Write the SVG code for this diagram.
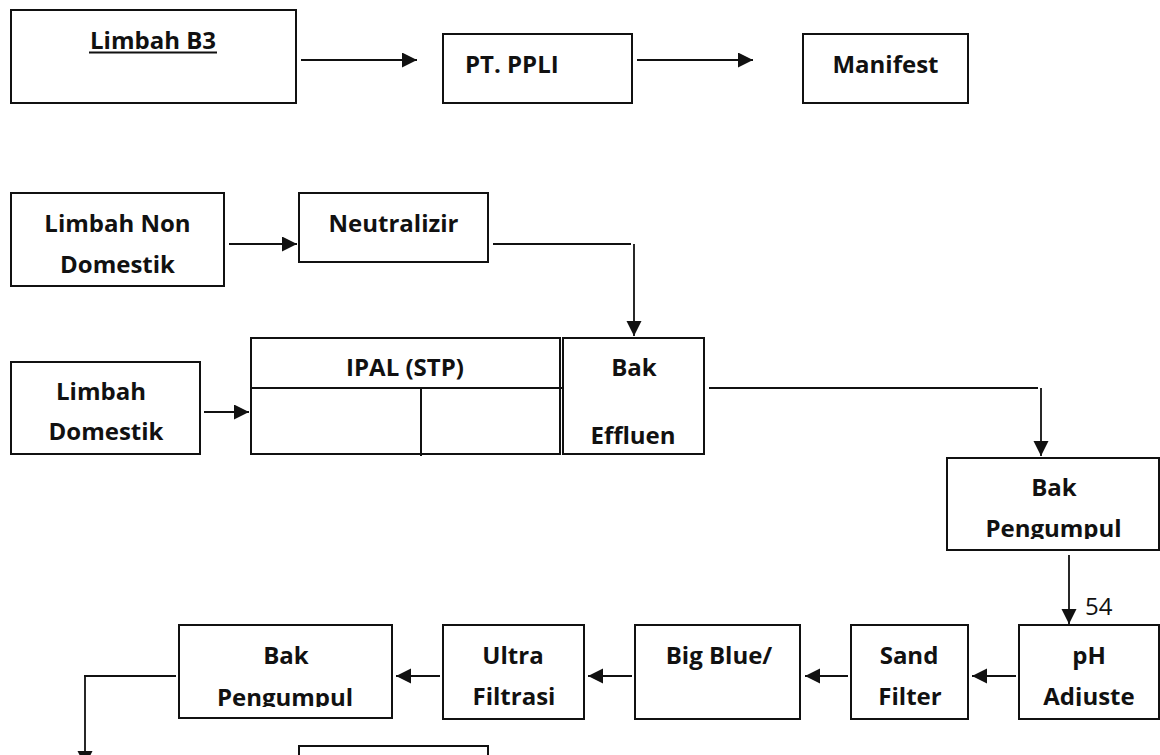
<svg xmlns="http://www.w3.org/2000/svg" width="1160" height="755" viewBox="0 0 1160 755">
  <style>
    .box { fill: #ffffff; stroke: #111111; stroke-width: 2; }
    .lbl { font-family: "Open Sans", "Liberation Sans", sans-serif; font-weight: 700; font-size: 24px; fill: #111111; text-anchor: middle; }
    .num { font-family: "Open Sans", "Liberation Sans", sans-serif; font-weight: 400; font-size: 24px; fill: #111111; }
    .wire { fill: none; stroke: #111111; stroke-width: 1.8; }
  </style>
  <defs>
    <marker id="arrow" markerUnits="userSpaceOnUse" markerWidth="16" markerHeight="16" refX="15" refY="7.5" orient="auto">
      <path d="M0,0 L15,7.5 L0,15 Z" fill="#111111"/>
    </marker>
    <clipPath id="clipBakR"><rect x="947" y="458" width="213" height="81"/></clipPath>
    <clipPath id="clipBakL"><rect x="179" y="625" width="213" height="82"/></clipPath>
    <clipPath id="clipPH"><rect x="1019" y="625" width="141" height="81"/></clipPath>
  </defs>

  <rect width="1160" height="755" fill="#ffffff"/>

  <!-- top row: hazardous waste route -->
  <g id="limbah-b3">
    <rect class="box" x="11" y="10" width="285" height="93"/>
    <text class="lbl" x="153" y="49">Limbah B3</text>
    <line x1="89" y1="52.5" x2="217" y2="52.5" stroke="#111111" stroke-width="2"/>
  </g>
  <g id="pt-ppli">
    <rect class="box" x="443" y="34" width="189" height="69"/>
    <text class="lbl" x="465" y="73" style="text-anchor:start">PT. PPLI</text>
  </g>
  <g id="manifest">
    <rect class="box" x="803" y="34" width="165" height="69"/>
    <text class="lbl" x="885.5" y="73">Manifest</text>
  </g>

  <!-- wastewater sources -->
  <g id="limbah-non-domestik">
    <rect class="box" x="11" y="193" width="213" height="93"/>
    <text class="lbl" x="117.5" y="232">Limbah Non</text>
    <text class="lbl" x="117.5" y="273">Domestik</text>
  </g>
  <g id="neutralizir">
    <rect class="box" x="299" y="193" width="189" height="69"/>
    <text class="lbl" x="393.5" y="232">Neutralizir</text>
  </g>
  <g id="limbah-domestik">
    <rect class="box" x="11" y="362" width="189" height="92"/>
    <text class="lbl" x="101" y="400">Limbah</text>
    <text class="lbl" x="106" y="440">Domestik</text>
  </g>

  <!-- sewage treatment plant -->
  <g id="ipal-stp">
    <rect class="box" x="251" y="338" width="309" height="116"/>
    <line x1="251" y1="388" x2="562" y2="388" stroke="#111111" stroke-width="2"/>
    <line x1="421" y1="388" x2="421" y2="456" stroke="#111111" stroke-width="2"/>
    <text class="lbl" x="405" y="376">IPAL (STP)</text>
  </g>
  <g id="bak-effluen">
    <rect class="box" x="563" y="338" width="141" height="116"/>
    <text class="lbl" x="634" y="376">Bak</text>
    <text class="lbl" x="633" y="444">Effluen</text>
  </g>

  <g id="bak-pengumpul-1">
    <rect class="box" x="947" y="458" width="212" height="92"/>
    <g clip-path="url(#clipBakR)">
      <text class="lbl" x="1054" y="496">Bak</text>
      <text class="lbl" x="1053.5" y="537">Pengumpul</text>
    </g>
  </g>

  <!-- recycling line -->
  <g id="ph-adjuste">
    <rect class="box" x="1019" y="625" width="140" height="94"/>
    <g clip-path="url(#clipPH)">
      <text class="lbl" x="1089" y="664">pH</text>
      <text class="lbl" x="1089" y="705">Adjuste</text>
    </g>
  </g>
  <g id="sand-filter">
    <rect class="box" x="851" y="625" width="117" height="94"/>
    <text class="lbl" x="909" y="664">Sand</text>
    <text class="lbl" x="910" y="705">Filter</text>
  </g>
  <g id="big-blue">
    <rect class="box" x="635" y="625" width="165" height="94"/>
    <text class="lbl" x="719" y="664">Big Blue/</text>
  </g>
  <g id="ultra-filtrasi">
    <rect class="box" x="443" y="625" width="141" height="94"/>
    <text class="lbl" x="513" y="664">Ultra</text>
    <text class="lbl" x="514" y="705">Filtrasi</text>
  </g>
  <g id="bak-pengumpul-2">
    <rect class="box" x="179" y="625" width="213" height="93"/>
    <g clip-path="url(#clipBakL)">
      <text class="lbl" x="286" y="664">Bak</text>
      <text class="lbl" x="285" y="706">Pengumpul</text>
    </g>
  </g>
  <g id="next-stage">
    <rect class="box" x="299" y="746" width="189" height="40"/>
  </g>

  <g id="connectors">
    <line class="wire" x1="301" y1="60" x2="417" y2="60" marker-end="url(#arrow)"/>
    <line class="wire" x1="637" y1="60" x2="753" y2="60" marker-end="url(#arrow)"/>
    <line class="wire" x1="229" y1="244" x2="297" y2="244" marker-end="url(#arrow)"/>
    <line class="wire" x1="493" y1="244" x2="631" y2="244"/>
    <line class="wire" x1="634" y1="244" x2="634" y2="336" marker-end="url(#arrow)"/>
    <line class="wire" x1="204" y1="412" x2="249" y2="412" marker-end="url(#arrow)"/>
    <line class="wire" x1="709" y1="388" x2="1038" y2="388"/>
    <line class="wire" x1="1041" y1="388" x2="1041" y2="456" marker-end="url(#arrow)"/>
    <line class="wire" x1="1069" y1="555" x2="1069" y2="624" marker-end="url(#arrow)"/>
    <text class="num" x="1085" y="615">54</text>
    <line class="wire" x1="1016" y1="676" x2="972" y2="676" marker-end="url(#arrow)"/>
    <line class="wire" x1="848" y1="676" x2="805" y2="676" marker-end="url(#arrow)"/>
    <line class="wire" x1="632" y1="676" x2="588" y2="676" marker-end="url(#arrow)"/>
    <line class="wire" x1="440" y1="676" x2="396" y2="676" marker-end="url(#arrow)"/>
    <line class="wire" x1="176" y1="676" x2="84" y2="676"/>
    <line class="wire" x1="85" y1="676" x2="85" y2="766" marker-end="url(#arrow)"/>
  </g>
</svg>
